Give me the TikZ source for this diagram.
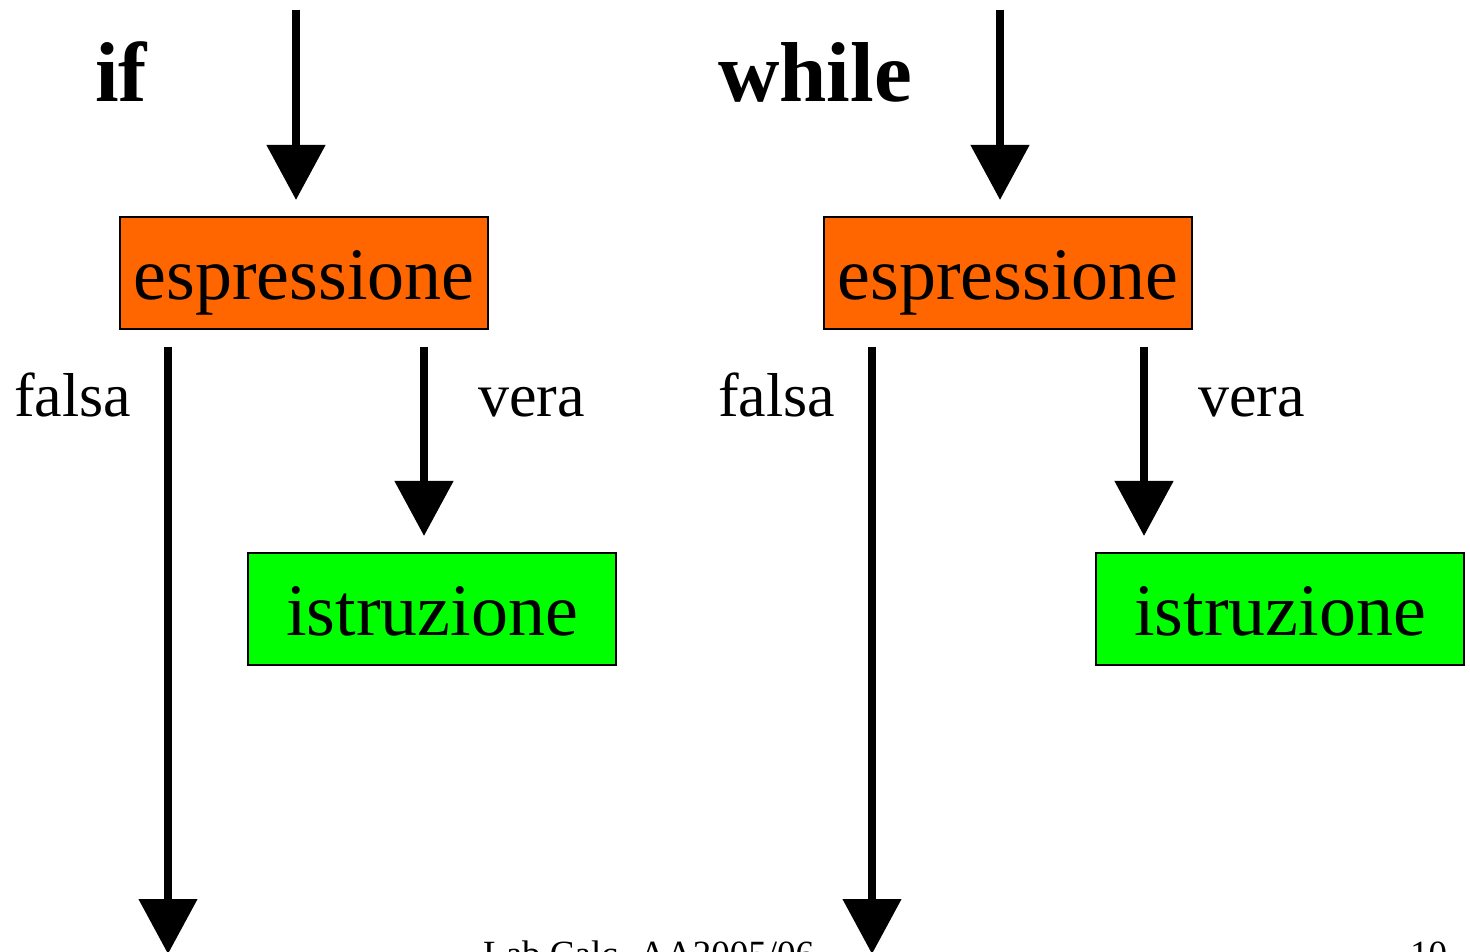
\documentclass[tikz,border=0pt]{standalone}
\usepackage{fontspec}
\setmainfont{Liberation Serif}
\usetikzlibrary{arrows.meta}
\definecolor{exprorange}{HTML}{FF6600}
\definecolor{stmtgreen}{HTML}{00FF00}
\tikzset{
  flowbox/.style={draw=black, line width=2pt, minimum width=368pt, minimum height=112pt,
    inner sep=0pt, text height=54pt, text depth=0pt, font=\fontsize{74}{80}\selectfont},
  exprbox/.style={flowbox, fill=exprorange},
  stmtbox/.style={flowbox, fill=stmtgreen},
  flowarrow/.style={line width=8pt, -{Triangle[width=57pt,length=55pt]}},
  kwlabel/.style={anchor=base west, inner sep=0pt, font=\fontsize{85}{92}\selectfont\bfseries},
  branchlabel/.style={anchor=base west, inner sep=0pt, font=\fontsize{62}{70}\selectfont},
  footlabel/.style={anchor=base west, inner sep=0pt, font=\fontsize{37}{42}\selectfont}
}
\begin{document}
\begin{tikzpicture}[x=1pt,y=1pt]
\useasboundingbox (0,0) rectangle (1470,951);
\clip (0,0) rectangle (1470,951);

% if
\node[kwlabel] (kwif) at (95,849) {if};
\coordinate (inif) at (296,941);
\node[exprbox] (eif) at (304,678) {espressione};
\node[stmtbox] (sif) at (432,342) {istruzione};
\coordinate (outif) at (168,-3);
\draw[flowarrow] (inif) -- (296,751);
\draw[flowarrow] ([xshift=-136pt,yshift=-17pt]eif.south) -- (outif);
\draw[flowarrow] ([xshift=120pt,yshift=-17pt]eif.south) -- ([xshift=-8pt,yshift=16pt]sif.north);
\node[branchlabel] (fif) at (14,534) {falsa};
\node[branchlabel] (vif) at (478,534) {vera};

% while
\node[kwlabel] (kwwhile) at (718,849) {while};
\coordinate (inwhile) at (1000,941);
\node[exprbox] (ewhile) at (1008,678) {espressione};
\node[stmtbox] (swhile) at (1280,342) {istruzione};
\coordinate (outwhile) at (872,-3);
\draw[flowarrow] (inwhile) -- (1000,751);
\draw[flowarrow] ([xshift=-136pt,yshift=-17pt]ewhile.south) -- (outwhile);
\draw[flowarrow] ([xshift=136pt,yshift=-17pt]ewhile.south) -- ([xshift=-136pt,yshift=16pt]swhile.north);
\node[branchlabel] (fwhile) at (718,534) {falsa};
\node[branchlabel] (vwhile) at (1198,534) {vera};

% footer, running off the lower edge of the page
\node[footlabel] (foot) at (483,-15) {Lab.Calc. AA2005/06};
\node[footlabel] (page) at (1410,-15) {10};
\end{tikzpicture}
\end{document}
